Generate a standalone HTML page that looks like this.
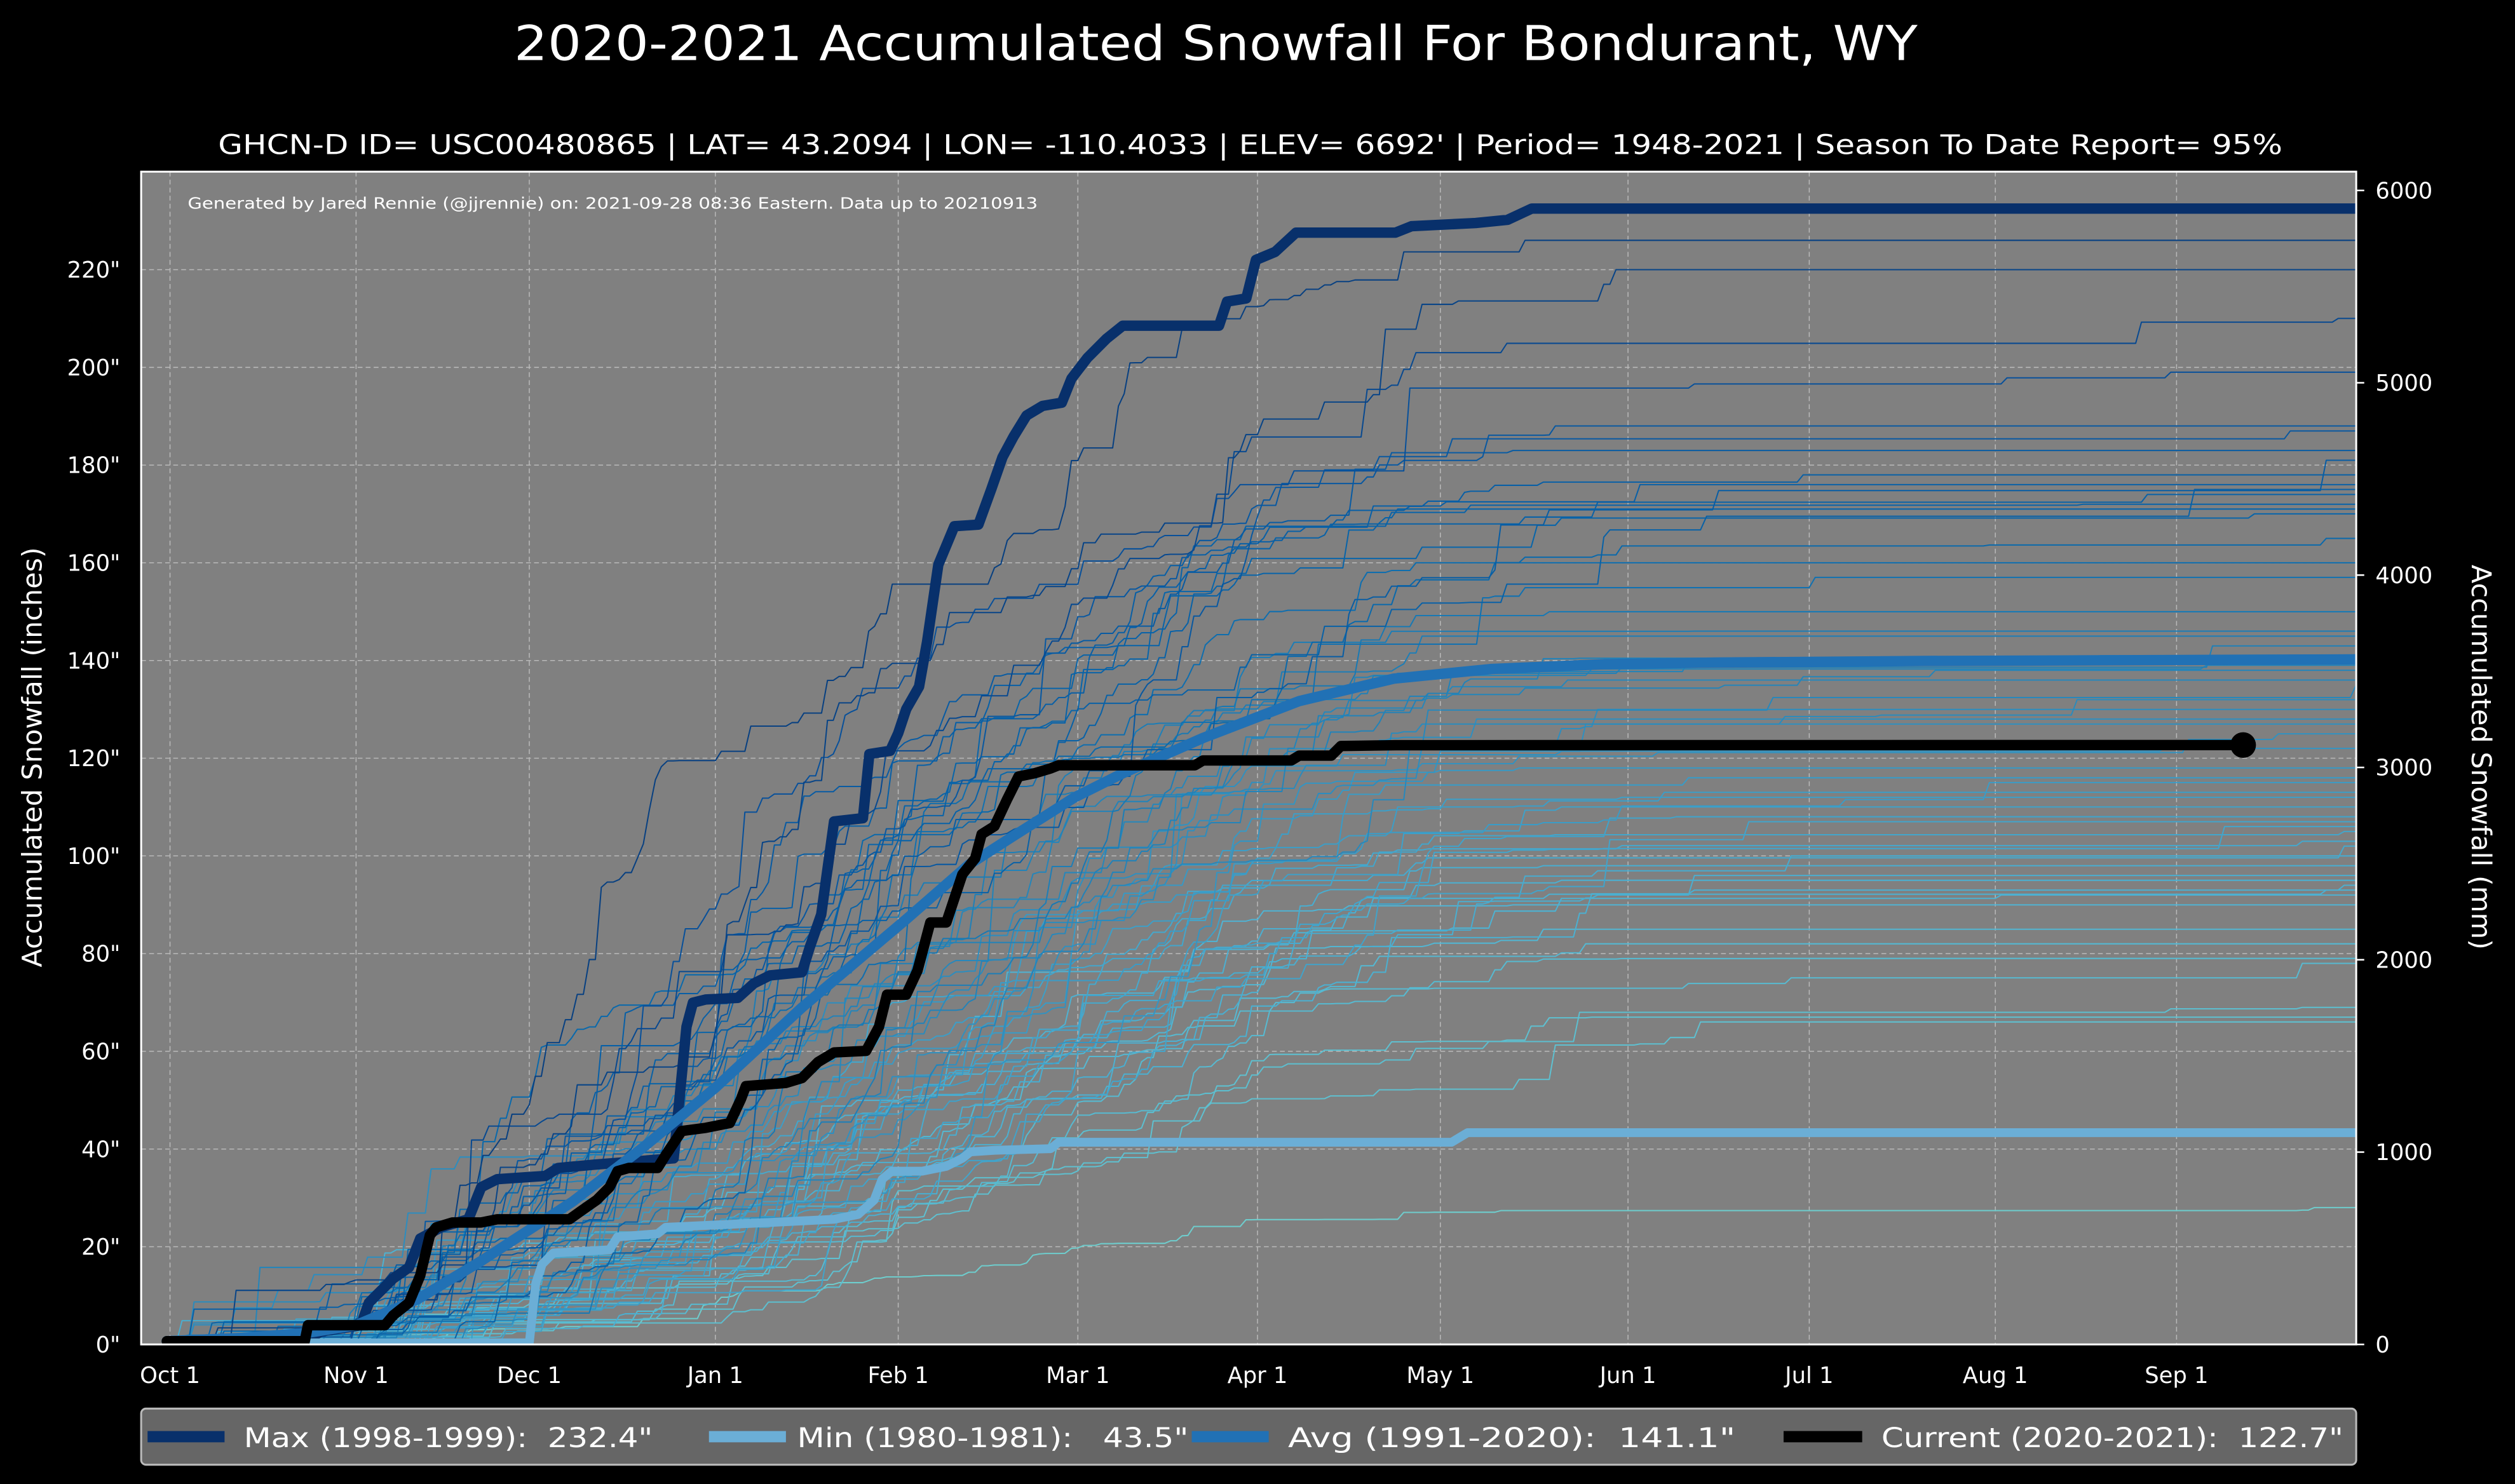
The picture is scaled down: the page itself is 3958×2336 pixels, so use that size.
<!DOCTYPE html>
<html><head><meta charset="utf-8"><style>
html,body{margin:0;padding:0;background:#000;width:3958px;height:2336px;overflow:hidden}
svg{display:block}
text{font-family:"DejaVu Sans","Liberation Sans",sans-serif;fill:#fff;white-space:pre}
</style></head><body>
<svg id="s" width="3958" height="2336" viewBox="0 0 1568 925" preserveAspectRatio="none" xmlns="http://www.w3.org/2000/svg" xml:space="preserve">
<rect x="0" y="0" width="1568" height="925" fill="#000"/>
<defs><clipPath id="c"><rect x="88" y="107" width="1381" height="731"/></clipPath></defs>
<rect x="88" y="107" width="1381" height="731" fill="#808080"/>
<g id="grid" stroke="#c8c8c8" stroke-width="0.6" stroke-dasharray="3,2" opacity="0.8"></g>
<g id="thin" clip-path="url(#c)" fill="none" stroke-width="0.8" stroke-linejoin="round"></g>
<g clip-path="url(#c)" fill="none" stroke-linejoin="round" stroke-linecap="round">
<polyline id="maxl" stroke="#08306b" stroke-width="6.5"/>
<polyline id="minl" stroke="#6baed6" stroke-width="5.5"/>
<polyline id="avgl" stroke="#2171b5" stroke-width="6.5"/>
<polyline id="curl" stroke="#000" stroke-width="6.5"/>
</g>
<circle cx="1398.5" cy="464.4" r="8" fill="#000"/>
<rect x="88" y="107" width="1381" height="731" fill="none" stroke="#fff" stroke-width="1.2"/>
<g id="ticks"></g>
<text x="320.5" y="37.5" font-size="30" textLength="875" lengthAdjust="spacingAndGlyphs">2020-2021 Accumulated Snowfall For Bondurant, WY</text>
<text x="136" y="96" font-size="17" textLength="1287" lengthAdjust="spacingAndGlyphs">GHCN-D ID= USC00480865 | LAT= 43.2094 | LON= -110.4033 | ELEV= 6692' | Period= 1948-2021 | Season To Date Report= 95%</text>
<text x="117" y="130" font-size="10" textLength="530" lengthAdjust="spacingAndGlyphs">Generated by Jared Rennie (@jjrennie) on: 2021-09-28 08:36 Eastern. Data up to 20210913</text>
<text transform="translate(26,472) rotate(-90)" font-size="17" text-anchor="middle">Accumulated Snowfall (inches)</text>
<text transform="translate(1541,472) rotate(90)" font-size="17" text-anchor="middle">Accumulated Snowfall (mm)</text>
<rect x="88" y="878" width="1381" height="35" rx="3" fill="#666" stroke="#bbb" stroke-width="1.2"/>
<line x1="92" y1="895.5" x2="140" y2="895.5" stroke="#08306b" stroke-width="7"/>
<text x="152" y="902" font-size="17" textLength="255" lengthAdjust="spacingAndGlyphs">Max (1998-1999):  232.4"</text>
<line x1="442" y1="895.5" x2="490" y2="895.5" stroke="#6baed6" stroke-width="7"/>
<text x="497" y="902" font-size="17" textLength="244" lengthAdjust="spacingAndGlyphs">Min (1980-1981):   43.5"</text>
<line x1="743" y1="895.5" x2="791" y2="895.5" stroke="#2171b5" stroke-width="7"/>
<text x="803" y="902" font-size="17" textLength="279" lengthAdjust="spacingAndGlyphs">Avg (1991-2020):  141.1"</text>
<line x1="1112" y1="895.5" x2="1161" y2="895.5" stroke="#000" stroke-width="7"/>
<text x="1173" y="902" font-size="17" textLength="288" lengthAdjust="spacingAndGlyphs">Current (2020-2021):  122.7"</text>
</svg>
<script>
(function(){
var NS="http://www.w3.org/2000/svg";
function el(n,a,p){var e=document.createElementNS(NS,n);for(var k in a)e.setAttribute(k,a[k]);p.appendChild(e);return e;}
var Y=function(v){return 838-3.045*v;};
var months=[["Oct 1",106],["Nov 1",222],["Dec 1",330],["Jan 1",446],["Feb 1",560],["Mar 1",672],["Apr 1",784],["May 1",898],["Jun 1",1015],["Jul 1",1128],["Aug 1",1244],["Sep 1",1357]];
var g=document.getElementById("grid"),t=document.getElementById("ticks");
months.forEach(function(m){
 el("line",{x1:m[1],y1:107,x2:m[1],y2:838},g);
 var tx=el("text",{x:m[1],y:862,"font-size":14,"text-anchor":"middle"},t);tx.textContent=m[0];
});
for(var v=0;v<=220;v+=20){
 var y=Y(v);
 if(v>0)el("line",{x1:88,y1:y,x2:1469,y2:y},g);
 var tx=el("text",{x:75,y:y+5,"font-size":14,"text-anchor":"end"},t);tx.textContent=v+'"';
}
for(var mm=0;mm<=6000;mm+=1000){
 var y=Y(mm/25.4);
 el("line",{x1:1469,y1:y,x2:1474,y2:y,stroke:"#fff","stroke-width":1},t);
 var tx=el("text",{x:1481,y:y+5,"font-size":14},t);tx.textContent=mm;
}
var md=[0,31,61,92,123,151,182,212,243,273,304,335,365];
var mx=[106,222,330,446,560,672,784,898,1015,1128,1244,1357,1469];
function X(d){for(var i=0;i<12;i++){if(d<=md[i+1])return mx[i]+(d-md[i])/(md[i+1]-md[i])*(mx[i+1]-mx[i]);}return 1469;}
var seed=12345;function R(){seed|=0;seed=seed+0x6D2B79F5|0;var t=Math.imul(seed^seed>>>15,1|seed);t=t+Math.imul(t^t>>>7,61|t)^t;return((t^t>>>14)>>>0)/4294967296;}
var prof=[0.08,0.45,0.65,0.8,0.85,0.75,0.4,0.12,0.02,0.003,0.003,0.02];
var totals=[226,220,210,199,188,187,183,181,178,176,175,174,172,171,170,165,160,157,150,146,145,143,141,140,139,138,136,135,132,130,128,127,125,122,118,116,115,113,112,110,108,107,106,105,103,102,100,98,96,95,94,93,92,90,85,82,79,78,69,67,66,28];
var cols=[[110,205,205],[78,179,211],[43,140,190],[8,104,172],[8,81,156],[8,64,129]];
function col(T){var f=Math.max(0,Math.min(1,(T-28)/(226-28)));f=Math.pow(f,1.4)*5;var i=Math.min(4,Math.floor(f)),r=f-i;var a=cols[i],b=cols[i+1];return "rgb("+[0,1,2].map(function(k){return Math.round(a[k]+(b[k]-a[k])*r);}).join(",")+")";}
var thin=document.getElementById("thin");
totals.slice().reverse().forEach(function(T){
 var amt=[],s=0;
 var late=(T<130)?1:0, early=(T>150)?1:0;
 for(var d=0;d<=365;d++){
  var mi=0;for(var i=0;i<12;i++)if(d>=md[i])mi=i;
  var p=prof[mi];
  if(late&&mi<=2)p*=0.6;
  if(early&&mi>=1&&mi<=3)p*=1.35;
  var a=0;
  if(R()<Math.min(0.9,p*0.45+0.005)){a=-Math.log(R()+1e-9)*(0.5+R());}
  if(d<4&&R()<0.5)a=0;
  amt.push(a);s+=a;
 }
 var sc=T/s,c=0,pts=[];
 for(var d=0;d<=365;d++){c+=amt[d]*sc;pts.push(X(d).toFixed(1)+","+Y(c).toFixed(1));}
 el("polyline",{points:pts.join(" "),stroke:col(T)},thin);
});
function set(id,arr){document.getElementById(id).setAttribute("points",arr.map(function(p){return p[0]+","+p[1];}).join(" "));}
set("maxl",[[104,836],[190,836],[200,830],[225,826],[230,812],[245,797],[255,790],[262,772],[275,765],[292,760],[300,740],[310,735],[340,733],[348,728],[370,726],[420,722],[428,640],[432,625],[440,623],[460,622],[470,613],[480,608],[500,606],[505,590],[512,570],[520,512],[538,510],[542,470],[555,468],[560,457],[565,442],[573,428],[578,400],[585,352],[595,328],[610,327],[618,305],[625,285],[632,272],[640,259],[650,253],[662,251],[668,236],[678,223],[690,211],[700,203],[760,203],[765,188],[777,186],[783,162],[795,157],[808,145],[870,145],[880,141],[920,139],[940,137],[955,130],[1469,130]]);
set("minl",[[104,837],[330,837],[334,800],[338,788],[345,781],[380,779],[385,771],[410,769],[415,765],[480,762],[520,760],[535,757],[545,748],[550,735],[556,730],[575,730],[590,727],[600,722],[605,718],[620,717],[655,716],[660,712],[905,712],[915,706],[1469,706]]);
set("avgl",[[104,836],[150,834],[190,831],[222,826],[260,810],[300,786],[357,749],[400,716],[446,678],[500,628],[565,573],[604,539],[632,521],[670,497],[700,482],[750,460],[810,437],[869,423],[930,417],[1000,414],[1070,413],[1200,412],[1469,411]]);
set("curl",[[104,836],[190,836],[192,826],[240,826],[245,820],[255,812],[262,795],[268,770],[272,765],[282,762],[300,762],[310,760],[355,760],[362,755],[372,748],[380,740],[385,730],[392,728],[410,728],[415,720],[425,705],[440,703],[455,700],[462,685],[465,677],[490,675],[500,672],[510,662],[520,656],[540,655],[548,640],[553,620],[565,620],[572,605],[580,575],[590,575],[595,560],[600,545],[608,535],[612,520],[620,515],[628,498],[635,484],[645,482],[655,479],[660,477],[745,477],[750,474],[805,474],[810,471],[830,471],[836,465],[870,464.5],[1398,464.4]]);
})();
</script>
</body></html>
